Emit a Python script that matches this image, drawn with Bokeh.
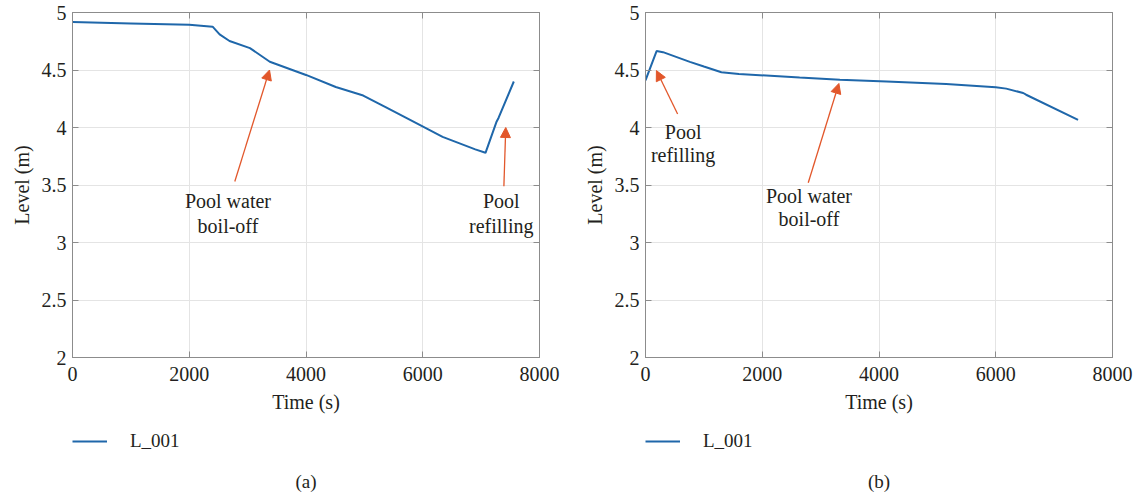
from bokeh.plotting import figure
from bokeh.layouts import row, column
from bokeh.models import (Range1d, LinearAxis, Legend, LegendItem, Label, Arrow,
                          NormalHead, ColumnDataSource, CustomJSTickFormatter, FixedTicker)
from bokeh.core.properties import value
from bokeh.embed import file_html
from bokeh.resources import INLINE

# ---------------- data ----------------
t_a = [0, 1000, 2000, 2400, 2520, 2690, 3040, 3380, 4000, 4510, 4980, 5380, 5890, 6340, 6900, 7075, 7260, 7300, 7560]
y_a = [4.917, 4.905, 4.893, 4.877, 4.81, 4.752, 4.69, 4.572, 4.457, 4.352, 4.278, 4.173, 4.038, 3.918, 3.81, 3.78, 4.045, 4.085, 4.40]

t_b = [0, 190, 300, 760, 1000, 1300, 1600, 2640, 3330, 4130, 5150, 6000, 6180, 6470, 6520, 7410]
y_b = [4.41, 4.665, 4.655, 4.571, 4.53, 4.48, 4.466, 4.434, 4.415, 4.40, 4.378, 4.35, 4.338, 4.30, 4.285, 4.067]

series_name = "L_001"
x_ticks = [0, 2000, 4000, 6000, 8000]
y_ticks = [2, 2.5, 3, 3.5, 4, 4.5, 5]
y_tick_labels = {2: "2", 2.5: "2.5", 3: "3", 3.5: "3.5", 4: "4", 4.5: "4.5", 5: "5"}

# annotations (a)
note_a_text = ["Pool water", "boil-off", "Pool", "refilling"]
note_a_x = [2663, 2663, 7345, 7345]
note_a_y = [3.365, 3.147, 3.365, 3.147]
arrow_a_x0 = [2780, 7390]
arrow_a_y0 = [3.53, 3.49]
arrow_a_x1 = [3375, 7422]
arrow_a_y1 = [4.50, 4.00]

# annotations (b)
note_b_text = ["Pool", "refilling", "Pool water", "boil-off"]
note_b_x = [644, 644, 2800, 2800]
note_b_y = [3.965, 3.758, 3.405, 3.205]
arrow_b_x0 = [550, 2788]
arrow_b_y0 = [4.117, 3.52]
arrow_b_x1 = [187, 3313]
arrow_b_y1 = [4.495, 4.383]

captions = ["(a)", "(b)"]

# ---------------- style ----------------
FONT = "Liberation Serif"
LINE = "#1f67aa"
ORANGE = "#e2572b"
GRID = "#e4e4e4"
FRAME = "#8c8c8c"
TXT = "#231f20"
MAIN_BOTTOM = 70
FOOT_H = 495 - 12 - 345 - MAIN_BOTTOM


def style_axis(ax, labels=True):
    ax.axis_line_color = FRAME
    ax.major_tick_line_color = FRAME
    ax.major_tick_in = 6
    ax.major_tick_out = 0
    ax.minor_tick_line_color = None
    if labels:
        ax.major_label_text_font = FONT
        ax.major_label_text_font_size = "20px"
        ax.major_label_text_color = TXT
        ax.axis_label_text_font = FONT
        ax.axis_label_text_font_size = "20px"
        ax.axis_label_text_font_style = "normal"
        ax.axis_label_text_color = TXT
    else:
        ax.major_label_text_font_size = "0px"
        ax.major_label_standoff = 0
        ax.formatter = CustomJSTickFormatter(code="return ''")


def make_panel(t, y, ntext, nx, ny, ax0, ay0, ax1, ay1, caption, width, left):
    right = width - left - 467
    p = figure(frame_width=467, frame_height=345, x_range=Range1d(0, 8000), y_range=Range1d(2, 5),
               output_backend="svg", toolbar_location=None,
               min_border_left=left, min_border_right=right, min_border_top=12,
               min_border_bottom=MAIN_BOTTOM, background_fill_color="white",
               border_fill_color="white")
    p.outline_line_color = FRAME
    p.xaxis.axis_label = "Time (s)"
    p.yaxis.axis_label = "Level (m)"
    p.xaxis.ticker = FixedTicker(ticks=x_ticks)
    p.yaxis.ticker = FixedTicker(ticks=y_ticks)
    p.yaxis.major_label_overrides = y_tick_labels
    for ax in p.xaxis + p.yaxis:
        style_axis(ax)
    p.xaxis.major_label_standoff = 9
    p.xaxis.axis_label_standoff = 7
    p.yaxis.major_label_standoff = 6
    p.yaxis.axis_label_standoff = 6
    p.xgrid.ticker = FixedTicker(ticks=x_ticks)
    p.ygrid.ticker = FixedTicker(ticks=y_ticks)
    p.grid.grid_line_color = GRID
    p.grid.grid_line_width = 1

    top_ax = LinearAxis(ticker=FixedTicker(ticks=x_ticks))
    right_ax = LinearAxis(ticker=FixedTicker(ticks=y_ticks))
    style_axis(top_ax, labels=False)
    style_axis(right_ax, labels=False)
    p.add_layout(top_ax, "above")
    p.add_layout(right_ax, "right")

    p.line(t, y, line_color=LINE, line_width=2)

    src = ColumnDataSource(dict(x0=ax0, y0=ay0, x1=ax1, y1=ay1))
    p.add_layout(Arrow(source=src, x_start="x0", y_start="y0", x_end="x1", y_end="y1",
                       line_color=ORANGE, line_width=1.3,
                       end=NormalHead(size=10, fill_color=ORANGE, line_color=ORANGE)))

    p.text(nx, ny, text=ntext, text_font=value(FONT), text_font_size="20px",
           text_align="center", text_baseline="middle", text_color=TXT)

    # footer: legend + caption (the series is drawn off-frame here, only its legend shows)
    f = figure(frame_width=467, frame_height=FOOT_H, x_range=Range1d(-1, 0), y_range=Range1d(-1, 0),
               x_axis_type=None, y_axis_type=None, output_backend="svg", toolbar_location=None,
               min_border_left=left, min_border_right=right, min_border_top=0,
               min_border_bottom=0, background_fill_color="white", border_fill_color="white")
    f.outline_line_color = None
    f.grid.visible = False
    proxy = f.line(t, y, line_color=LINE, line_width=2)
    legend = Legend(items=[LegendItem(label=series_name, renderers=[proxy])],
                    location=(0, FOOT_H - 25), padding=0, margin=0, glyph_width=35,
                    glyph_height=20, label_height=20, label_standoff=23,
                    border_line_color=None, background_fill_color=None,
                    background_fill_alpha=0,
                    label_text_font=FONT, label_text_font_size="19px",
                    label_text_color=TXT)
    f.add_layout(legend)
    f.add_layout(Label(x=233.5, y=FOOT_H - 54, x_units="screen", y_units="screen", text=caption,
                       text_align="center", text_baseline="middle", text_font=FONT,
                       text_font_size="19px", text_color=TXT))
    return column(p, f, spacing=0)


c1 = make_panel(t_a, y_a, note_a_text, note_a_x, note_a_y,
                arrow_a_x0, arrow_a_y0, arrow_a_x1, arrow_a_y1, captions[0], 571, 72)
c2 = make_panel(t_b, y_b, note_b_text, note_b_x, note_b_y,
                arrow_b_x0, arrow_b_y0, arrow_b_x1, arrow_b_y1, captions[1], 572, 74)

layout = row(c1, c2, spacing=0)
open("out.html", "w").write(file_html(layout, INLINE))
